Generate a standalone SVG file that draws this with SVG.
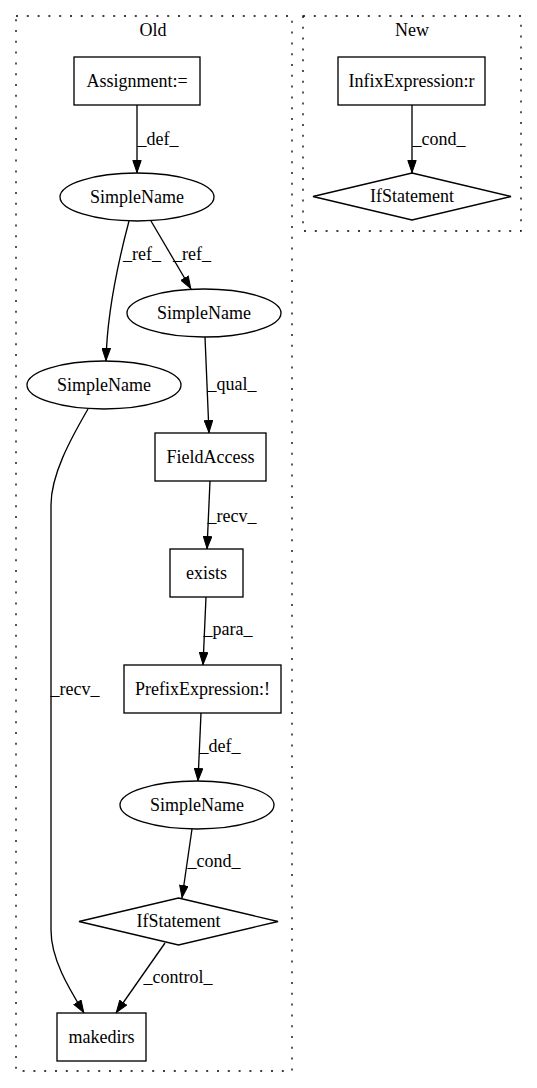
<svg xmlns="http://www.w3.org/2000/svg" width="537" height="1088" viewBox="0 0 537 1088">
<style>
text{font-family:"Liberation Serif","Times New Roman",serif;font-size:18px;fill:#000}
.n{text-anchor:middle}
.shape{fill:none;stroke:#000;stroke-width:1.33}
.cl{fill:none;stroke:#000;stroke-width:1.33;stroke-dasharray:2,8.8}
.e{fill:none;stroke:#000;stroke-width:1.33;marker-end:url(#ah)}
</style>
<defs>
<marker id="ah" viewBox="0 0 13 9.4" refX="13" refY="4.7" markerWidth="13" markerHeight="9.4" markerUnits="userSpaceOnUse" orient="auto">
<path d="M0.5,0.5 L12.5,4.7 L0.5,8.9 z" fill="#000" stroke="#000" stroke-width="1"/>
</marker>
</defs>
<rect width="537" height="1088" fill="#fff"/>
<g id="cluster_old">
<rect class="cl" x="16" y="16" width="276" height="1055"/>
<text class="n" x="153" y="36">Old</text>
</g>
<g id="cluster_new">
<rect class="cl" x="303" y="16" width="218" height="215"/>
<text class="n" x="412" y="36">New</text>
</g>
<g id="connectors">
<path class="e" d="M137,105 L137,173"/>
<text class="n" x="158" y="145">_def_</text>
<path class="e" d="M129,221 C120,255 107,310 106,361"/>
<text class="n" x="142" y="260">_ref_</text>
<path class="e" d="M151,221 L191,289"/>
<text class="n" x="192" y="260">_ref_</text>
<path class="e" d="M205,337 L209,433"/>
<text class="n" x="232" y="390">_qual_</text>
<path class="e" d="M210,481 L207,549"/>
<text class="n" x="232" y="522">_recv_</text>
<path class="e" d="M206,597 L203,665"/>
<text class="n" x="228" y="635">_para_</text>
<path class="e" d="M201,713 L198,781"/>
<text class="n" x="220" y="752">_def_</text>
<path class="e" d="M192,829 L182,898"/>
<text class="n" x="214" y="867">_cond_</text>
<path class="e" d="M165,943 L116,1013"/>
<text class="n" x="178" y="983">_control_</text>
<path class="e" d="M88,409 C70,440 51,475 51,505 L51,930 C51,960 70,990 84,1013"/>
<text class="n" x="75" y="695">_recv_</text>
<path class="e" d="M412,105 L412,173"/>
<text class="n" x="439" y="145">_cond_</text>
</g>
<g id="assignment">
<rect class="shape" x="74" y="57" width="126" height="48"/>
<text class="n" x="137" y="87">Assignment:=</text>
</g>
<g id="simplename1">
<ellipse class="shape" cx="137" cy="197" rx="77" ry="24"/>
<text class="n" x="137" y="203">SimpleName</text>
</g>
<g id="simplename2">
<ellipse class="shape" cx="204" cy="313" rx="77" ry="24"/>
<text class="n" x="204" y="319">SimpleName</text>
</g>
<g id="simplename3">
<ellipse class="shape" cx="104" cy="385" rx="77" ry="24"/>
<text class="n" x="104" y="391">SimpleName</text>
</g>
<g id="fieldaccess">
<rect class="shape" x="155" y="433" width="111" height="48"/>
<text class="n" x="210.5" y="463">FieldAccess</text>
</g>
<g id="exists">
<rect class="shape" x="170" y="549" width="73" height="48"/>
<text class="n" x="206.5" y="579">exists</text>
</g>
<g id="prefix">
<rect class="shape" x="124" y="665" width="157" height="48"/>
<text class="n" x="202.5" y="695">PrefixExpression:!</text>
</g>
<g id="simplename4">
<ellipse class="shape" cx="197" cy="805" rx="77" ry="24"/>
<text class="n" x="197" y="811">SimpleName</text>
</g>
<g id="ifstatement_old">
<polygon class="shape" points="178.5,898 278,921.5 178.5,945 79,921.5"/>
<text class="n" x="178.5" y="927">IfStatement</text>
</g>
<g id="makedirs">
<rect class="shape" x="57" y="1013" width="89" height="48"/>
<text class="n" x="101.5" y="1043">makedirs</text>
</g>
<g id="infix">
<rect class="shape" x="338" y="57" width="147" height="48"/>
<text class="n" x="411.5" y="87">InfixExpression:r</text>
</g>
<g id="ifstatement_new">
<polygon class="shape" points="412,173 511,196.5 412,220 313,196.5"/>
<text class="n" x="412" y="202">IfStatement</text>
</g>
</svg>
